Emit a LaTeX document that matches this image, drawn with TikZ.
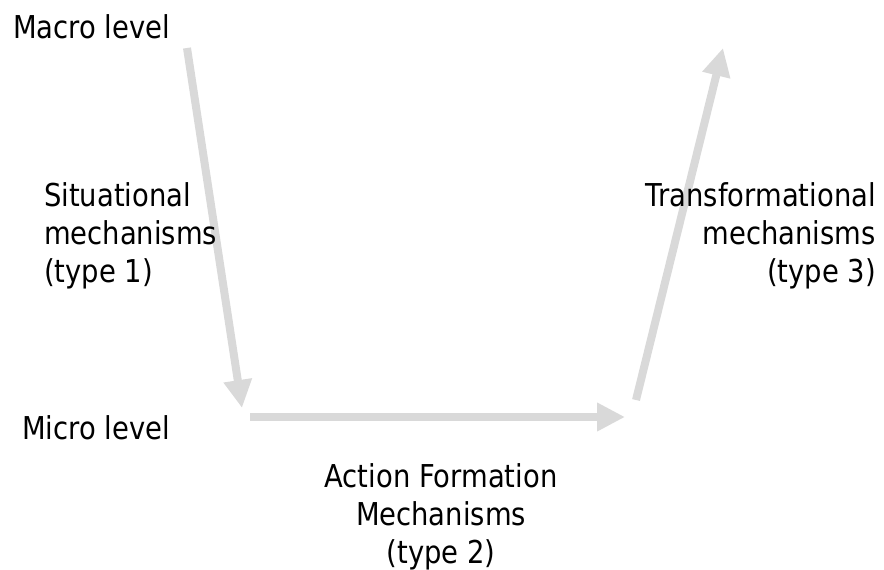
\documentclass[tikz,border=0pt]{standalone}
\usepackage{fontspec}
\setmainfont{DejaVu Sans}[FakeStretch=0.87]
\usetikzlibrary{arrows.meta}
\definecolor{arrowgray}{HTML}{D9D9D9}
\begin{document}
\begin{tikzpicture}[x=1pt,y=-1pt,
  flow/.style={draw=arrowgray,line width=8pt,-{Triangle[width=27pt,length=28pt]}},
  lbl/.style={inner sep=0pt,font=\fontsize{31.5}{38}\selectfont}]
\useasboundingbox (0,0) rectangle (884,570);
\coordinate (macroTop) at (187,48);
\coordinate (microIn) at (242,408);
\coordinate (microOut) at (250,417);
\coordinate (microEnd) at (625,417);
\coordinate (transStart) at (636,400);
\coordinate (macroEnd) at (723,48);
\draw[flow] (macroTop) -- (microIn);
\draw[flow] (microOut) -- (microEnd);
\draw[flow] (transStart) -- (macroEnd);
\node[lbl,anchor=base west] (macro) at (13,38) {Macro level};
\node[lbl,anchor=base west] (micro) at (22,439) {Micro level};
\node[lbl,anchor=base west,align=left] (sit) at (44,282) {Situational\\mechanisms\\(type 1)};
\node[lbl,anchor=base east,align=right] (trans) at (876,282) {Transformational\\mechanisms\\(type 3)};
\node[lbl,anchor=base,align=center] (act) at (441,563) {Action Formation\\Mechanisms\\(type 2)};
\end{tikzpicture}
\end{document}
